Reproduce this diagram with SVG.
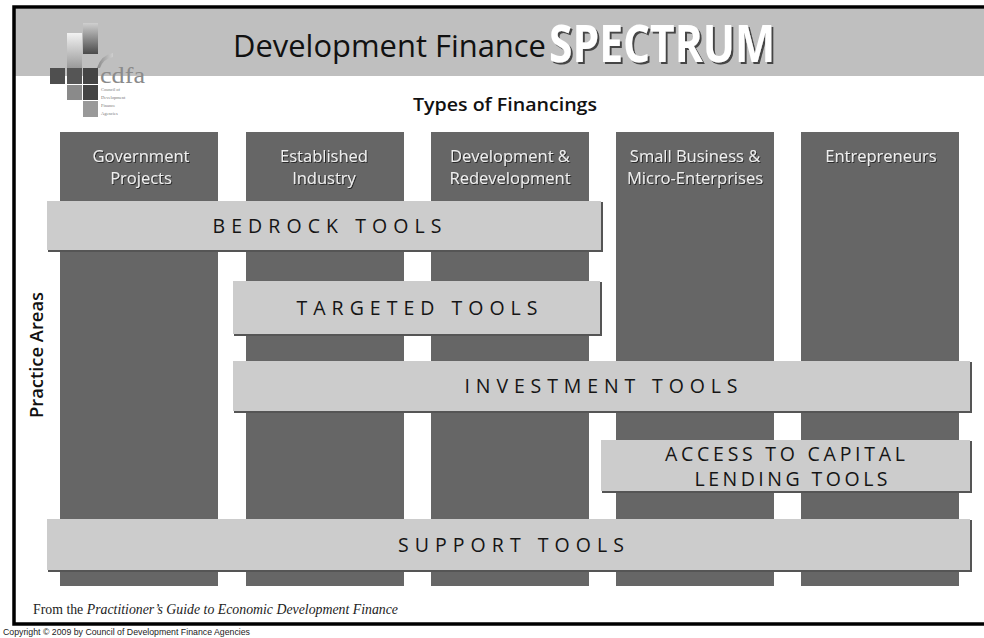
<svg xmlns="http://www.w3.org/2000/svg" width="984" height="638" viewBox="0 0 984 638">
<defs>
<style>
.col{fill:#666666}
.bar{fill:#cccccc}
.barsh{fill:#555555}
.collbl{font-family:"Open Sans","Noto Sans",sans-serif;font-size:16.5px;fill:#eeeeee;text-anchor:middle;filter:url(#ts)}
.barlbl{font-family:"Open Sans","Noto Sans",sans-serif;font-size:19.5px;fill:#151515;text-anchor:middle}
</style>
<filter id="ts" x="-10%" y="-30%" width="120%" height="160%">
<feDropShadow dx="1" dy="1" stdDeviation="0.6" flood-color="#222222" flood-opacity="0.9"/>
</filter>
<filter id="ts2" x="-5%" y="-10%" width="110%" height="130%">
<feDropShadow dx="2" dy="2" stdDeviation="0.7" flood-color="#444444" flood-opacity="1"/>
</filter>
<linearGradient id="g1" x1="0" y1="0" x2="0" y2="1">
<stop offset="0" stop-color="#cfcfcf"/><stop offset="1" stop-color="#4a4a4a"/>
</linearGradient>
<linearGradient id="g2" x1="0" y1="0" x2="0" y2="1">
<stop offset="0" stop-color="#f2f2f2"/><stop offset="1" stop-color="#9a9a9a"/>
</linearGradient>
<linearGradient id="g3" x1="0" y1="0" x2="1" y2="0">
<stop offset="0" stop-color="#888888"/><stop offset="1" stop-color="#cfcfcf"/>
</linearGradient>
</defs>

<rect width="984" height="638" fill="#ffffff"/>

<g id="header">
<rect x="15" y="9" width="969" height="67" fill="#bfbfbf"/>
<text x="233" y="57" font-family="'Open Sans','Noto Sans',sans-serif" font-size="31" fill="#111111" textLength="313" lengthAdjust="spacingAndGlyphs">Development Finance</text>
<text x="549" y="62" font-family="'Open Sans','Noto Sans',sans-serif" font-size="52" font-weight="700" fill="#ffffff" filter="url(#ts2)" textLength="226" lengthAdjust="spacingAndGlyphs">SPECTRUM</text>
</g>

<g id="logo">
<rect x="83" y="23" width="15" height="31" fill="url(#g1)"/>
<rect x="67" y="33" width="15" height="35" fill="url(#g2)"/>
<path d="M97 68 Q101 55 113 53 L113 57 Q103 59 100 68 Z" fill="url(#g3)"/>
<rect x="50" y="68" width="15" height="16" fill="#4f4f4f"/>
<rect x="67" y="68" width="15" height="16" fill="#555555"/>
<rect x="83" y="68" width="15" height="16" fill="#444444"/>
<rect x="67" y="85" width="15" height="15" fill="#8a8a8a"/>
<rect x="83" y="85" width="15" height="15" fill="#444444"/>
<rect x="83" y="101" width="15" height="16" fill="#999999"/>
<text x="100" y="83" font-family="'Liberation Serif',serif" font-size="24" fill="#8a8a8a" textLength="45" lengthAdjust="spacingAndGlyphs">cdfa</text>
<g font-family="'Liberation Serif',serif" font-size="4.5" fill="#777777">
<text x="101" y="91">Council of</text>
<text x="101" y="99">Development</text>
<text x="101" y="107">Finance</text>
<text x="101" y="115">Agencies</text>
</g>
</g>

<g id="types-title">
<text x="505" y="111" font-family="'Open Sans','Noto Sans',sans-serif" font-size="18" font-weight="600" fill="#111111" text-anchor="middle" textLength="184" lengthAdjust="spacingAndGlyphs">Types of Financings</text>
</g>

<g id="practice-areas">
<text transform="translate(43 355) rotate(-90)" font-family="'Open Sans','Noto Sans',sans-serif" font-size="18" font-weight="600" fill="#111111" text-anchor="middle" textLength="126" lengthAdjust="spacingAndGlyphs">Practice Areas</text>
</g>

<g id="col-government">
<rect class="col" x="60" y="132" width="158" height="454"/>
<text class="collbl" x="141" y="162">Government</text>
<text class="collbl" x="141" y="184">Projects</text>
</g>
<g id="col-established">
<rect class="col" x="246" y="132" width="158" height="454"/>
<text class="collbl" x="324" y="162">Established</text>
<text class="collbl" x="324" y="184">Industry</text>
</g>
<g id="col-development">
<rect class="col" x="431" y="132" width="158" height="454"/>
<text class="collbl" x="510" y="162">Development &amp;</text>
<text class="collbl" x="510" y="184">Redevelopment</text>
</g>
<g id="col-smallbusiness">
<rect class="col" x="616" y="132" width="158" height="454"/>
<text class="collbl" x="695" y="162">Small Business &amp;</text>
<text class="collbl" x="695" y="184">Micro-Enterprises</text>
</g>
<g id="col-entrepreneurs">
<rect class="col" x="801" y="132" width="158" height="454"/>
<text class="collbl" x="881" y="162">Entrepreneurs</text>
</g>

<g id="bar-bedrock">
<rect class="barsh" x="48" y="202" width="555" height="50"/>
<rect class="bar" x="47" y="201" width="554" height="49"/>
<text class="barlbl" x="327" y="233" textLength="229" lengthAdjust="spacing">BEDROCK TOOLS</text>
</g>
<g id="bar-targeted">
<rect class="barsh" x="234" y="282" width="368" height="54"/>
<rect class="bar" x="233" y="281" width="367" height="53"/>
<text class="barlbl" x="417" y="315" textLength="241" lengthAdjust="spacing">TARGETED TOOLS</text>
</g>
<g id="bar-investment">
<rect class="barsh" x="234" y="362" width="738" height="51"/>
<rect class="bar" x="233" y="361" width="737" height="50"/>
<text class="barlbl" x="601" y="393" textLength="273" lengthAdjust="spacing">INVESTMENT TOOLS</text>
</g>
<g id="bar-access">
<rect class="barsh" x="602" y="441" width="370" height="52"/>
<rect class="bar" x="601" y="440" width="369" height="51"/>
<text class="barlbl" x="785" y="461" font-size="18.5" textLength="240" lengthAdjust="spacing">ACCESS TO CAPITAL</text>
<text class="barlbl" x="791" y="486" font-size="18.5" textLength="193" lengthAdjust="spacing">LENDING TOOLS</text>
</g>
<g id="bar-support">
<rect class="barsh" x="48" y="520" width="924" height="52"/>
<rect class="bar" x="47" y="519" width="923" height="51"/>
<text class="barlbl" x="511" y="552" textLength="226" lengthAdjust="spacing">SUPPORT TOOLS</text>
</g>

<g id="footer">
<text x="33" y="614" font-family="'Liberation Serif',serif" font-size="15" fill="#222222" textLength="365" lengthAdjust="spacingAndGlyphs">From the <tspan font-style="italic">Practitioner’s Guide to Economic Development Finance</tspan></text>
</g>

<rect id="frame" x="14" y="7" width="985" height="617" fill="none" stroke="#000000" stroke-width="3.5"/>

<g id="copyright">
<text x="3" y="635" font-family="'Liberation Sans',Arial,sans-serif" font-size="9.5" fill="#222222" textLength="247" lengthAdjust="spacingAndGlyphs">Copyright © 2009 by Council of Development Finance Agencies</text>
</g>
</svg>
